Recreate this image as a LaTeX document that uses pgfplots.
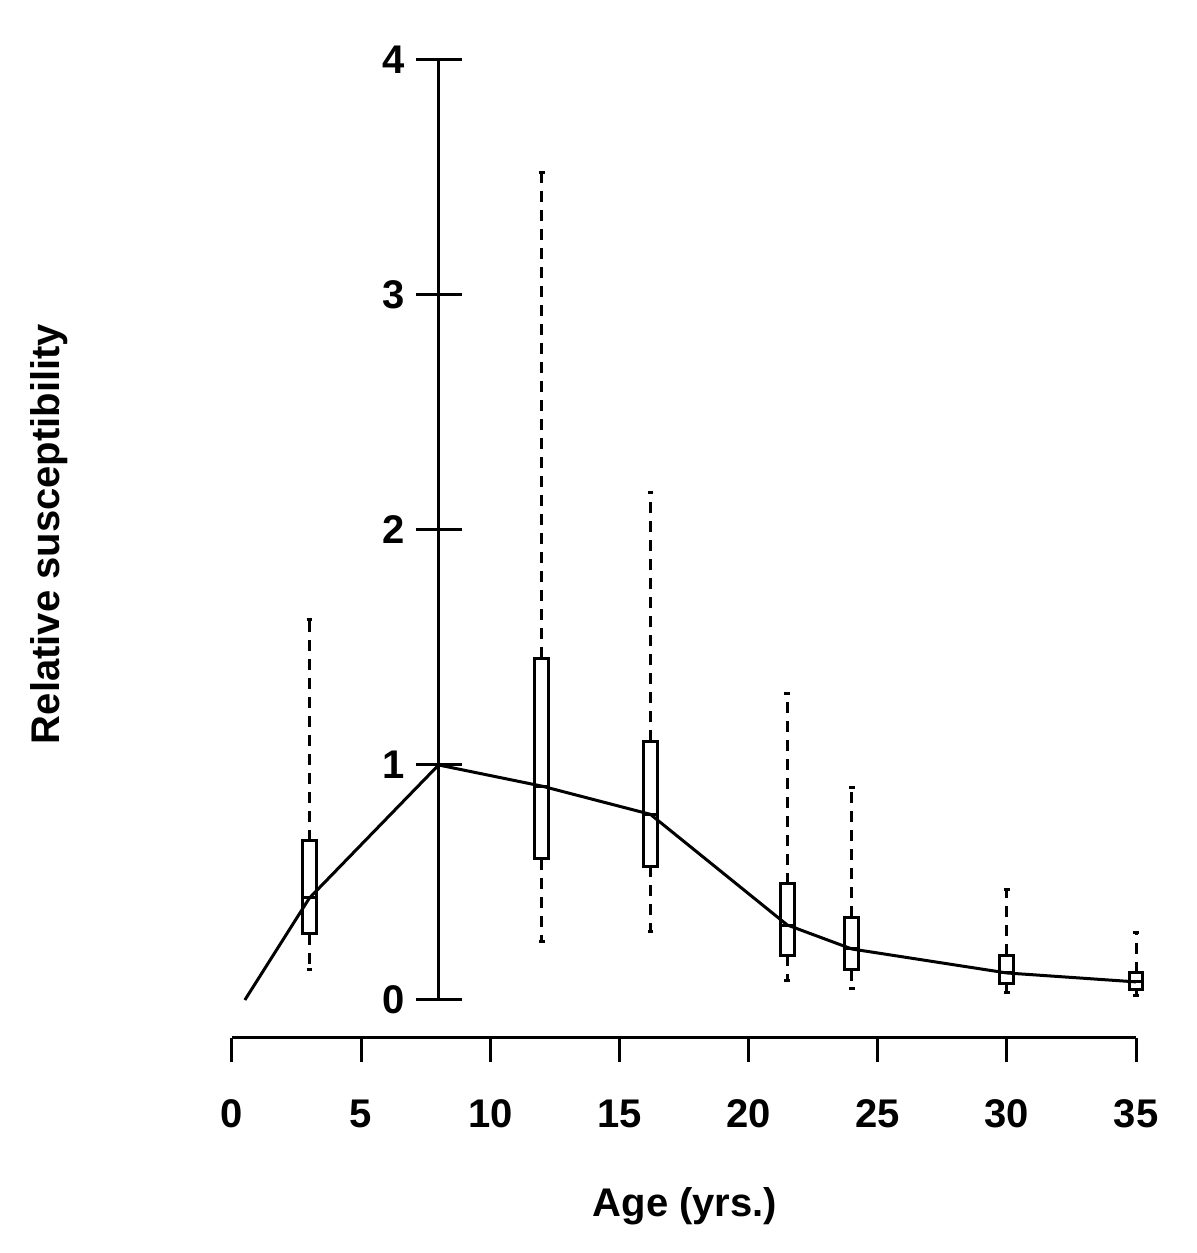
\documentclass[border=0pt]{standalone}
\usepackage{fontspec}
\setmainfont{Liberation Sans}
\usepackage{pgfplots}
\pgfplotsset{compat=1.18}
\usepgfplotslibrary{statistics}
\begin{document}
\begin{tikzpicture}
\fontsize{10}{12}\selectfont\bfseries
\begin{axis}[
  name=A,
  at={(0,0)}, anchor=south west,
  scale only axis, width=226pt, height=244.5pt,
  xmin=0, xmax=35, ymin=-0.1617, ymax=4,
  axis x line=bottom, axis y line=none,
  axis line style={-, line width=0.75pt},
  xtick={0,5,...,35}, ytick=\empty,
  tick align=outside, major tick length=6pt,
  tick style={line width=0.75pt, black},
  xticklabel style={font=\fontsize{10}{12}\selectfont\bfseries, text height=7.3pt, text depth=0pt, yshift=-5.5pt},
  /pgf/number format/assume math mode=true,
  clip=false,
  every axis plot/.append style={black, line width=0.75pt},
  boxplot/every whisker/.style={dash pattern=on 2.75pt off 2pt, line width=0.75pt},
  boxplot/every box/.style={line width=0.75pt},
  boxplot/every median/.style={line width=0.75pt},
  boxplot/draw direction=y,
  boxplot/box extend=0.54,
  boxplot/whisker extend=0.22,
]
\addplot+[mark=none, black, solid] coordinates {
 (0.5,0) (3,0.434) (8,1) (12,0.91) (16.2,0.79) (21.5,0.319) (24,0.217) (30,0.115) (35,0.077)
};
\addplot+[mark=none, black, solid, boxplot prepared={draw position=3, lower whisker=0.128, lower quartile=0.281, median=0.434, upper quartile=0.677, upper whisker=1.617}] coordinates {};
\addplot+[mark=none, black, solid, boxplot prepared={draw position=12, lower whisker=0.25, lower quartile=0.6, median=0.91, upper quartile=1.455, upper whisker=3.52}] coordinates {};
\addplot+[mark=none, black, solid, boxplot prepared={draw position=16.2, lower whisker=0.29, lower quartile=0.57, median=0.79, upper quartile=1.1, upper whisker=2.16}] coordinates {};
\addplot+[mark=none, black, solid, boxplot prepared={draw position=21.5, lower whisker=0.085, lower quartile=0.191, median=0.319, upper quartile=0.494, upper whisker=1.302}] coordinates {};
\addplot+[mark=none, black, solid, boxplot prepared={draw position=24, lower whisker=0.051, lower quartile=0.128, median=0.217, upper quartile=0.353, upper whisker=0.906}] coordinates {};
\addplot+[mark=none, black, solid, boxplot prepared={draw position=30, lower whisker=0.03, lower quartile=0.072, median=0.115, upper quartile=0.191, upper whisker=0.472}] coordinates {};
\addplot+[mark=none, black, solid, boxplot prepared={draw position=35, lower whisker=0.021, lower quartile=0.043, median=0.077, upper quartile=0.115, upper whisker=0.289}] coordinates {};
\coordinate (yorig) at (axis cs:8,0);
\node[rotate=90, anchor=base, font=\fontsize{10}{12}\selectfont\bfseries] at (axis cs:-6.66,1.983) {Relative susceptibility};
\node[anchor=base, font=\fontsize{10}{12}\selectfont\bfseries] at (axis cs:17.54,-0.923) {Age (yrs.)};
\path (axis cs:-8.98,-1.0766) rectangle (axis cs:37.36,4.255);
\end{axis}
\begin{axis}[
  at={(yorig)}, anchor=south west,
  scale only axis, width=174.37pt, height=235pt,
  xmin=8, xmax=35, ymin=0, ymax=4,
  axis x line=none, axis y line=left,
  axis line style={-, line width=0.75pt},
  xtick=\empty, ytick={0,1,2,3,4},
  tick align=center, major tick length=11.5pt,
  tick style={line width=0.75pt, black},
  yticklabel style={font=\fontsize{10}{12}\selectfont\bfseries, xshift=0.8pt},
  /pgf/number format/assume math mode=true,
]
\addplot[draw=none] coordinates {(8,0)};
\end{axis}
\end{tikzpicture}
\end{document}
